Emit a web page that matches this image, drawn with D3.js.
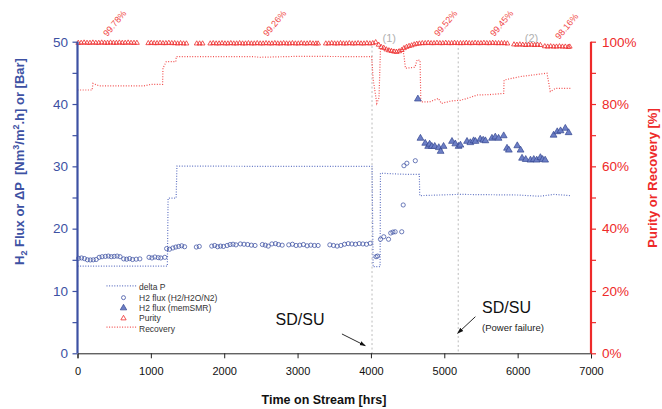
<!DOCTYPE html>
<html>
<head>
<meta charset="utf-8">
<script src="https://cdn.jsdelivr.net/npm/d3@7"></script>
<style>
  body { margin: 0; background: #fff; }
  svg { font-family: "Liberation Sans", Arial, sans-serif; }
</style>
</head>
<body>
<div id="chart"></div>
<script>
var W = 662, H = 409;

// ---- data ----
// [hours, bar]
var deltaP = [[0,14.0],[1225,14.0],[1235,24.9],[1345,24.9],[1355,30.05],[2500,30.0],[4015,30.0],
  [4030,13.9],[4125,13.9],[4130,28.9],[4500,28.7],[4660,28.7],[4665,25.3],[5200,25.5],
  [6000,25.4],[6300,25.2],[6500,25.5],[6720,25.3]];

// [hours, Nm3/m2.h]  H2/H2O/N2 feed
var fluxN2 = [[15,15.24],[55,15.3],[95,15.2],[135,15.0],[175,14.98],[215,15.0],[255,15.05],
  [295,15.4],[335,15.5],[380,15.55],[420,15.6],[460,15.5],[500,15.55],[540,15.6],[580,15.5],
  [630,15.15],[670,15.1],[710,15.2],[750,15.05],[800,15.1],[850,15.15],[975,15.4],[1015,15.3],
  [1055,15.45],[1100,15.35],[1135,15.3],[1190,15.4],[1215,16.8],[1255,16.7],[1300,16.9],
  [1340,17.05],[1380,17.15],[1420,17.25],[1460,17.1],[1620,17.05],[1660,17.15],[1830,17.2],
  [1870,17.3],[1910,17.1],[1950,17.2],[1990,17.15],[2040,17.3],[2080,17.45],[2120,17.5],
  [2160,17.4],[2220,17.55],[2270,17.5],[2320,17.45],[2370,17.35],[2420,17.3],[2520,17.45],
  [2560,17.35],[2600,17.2],[2650,17.55],[2700,17.6],[2740,17.45],[2790,17.35],[2880,17.4],
  [2930,17.5],[2980,17.3],[3030,17.35],[3080,17.45],[3130,17.25],[3180,17.35],[3230,17.3],
  [3280,17.3],[3440,17.4],[3490,17.3],[3540,17.2],[3590,17.3],[3640,17.5],[3690,17.6],
  [3740,17.55],[3790,17.5],[3840,17.6],[3890,17.55],[3940,17.5],[3990,17.65],[4070,15.5],
  [4090,15.6],[4130,18.3],[4175,18.7],[4240,18.3],[4270,19.3],[4300,19.45],[4330,19.5],
  [4420,19.5],[4440,23.8],[4450,30.1],[4490,30.5],[4605,30.9]];

// [hours, Nm3/m2.h]  memSMR
var fluxSMR = [[4640,40.8],[4675,34.5],[4740,33.7],[4780,33.2],[4800,33.55],[4830,33.2],
  [4870,33.2],[4925,33.0],[4950,32.4],[4990,33.2],[5105,34.0],[5150,33.6],[5195,33.2],
  [5220,33.4],[5310,34.0],[5355,33.8],[5400,34.1],[5425,34.0],[5490,34.35],[5530,34.2],
  [5560,34.1],[5650,34.5],[5695,34.7],[5740,34.5],[5810,34.9],[5855,32.9],[5880,32.6],
  [5995,33.3],[6040,32.6],[6060,31.3],[6110,31.1],[6175,31.0],[6220,31.1],[6260,31.0],
  [6310,31.4],[6340,31.1],[6375,31.0],[6490,35.0],[6540,35.55],[6585,35.7],[6650,36.1],
  [6695,35.4]];

// [hours, %]
var purity = [[10,99.6],[50,99.6],[90,99.7],[130,99.6],[170,99.6],[210,99.7],[250,99.6],
  [290,99.6],[330,99.7],[370,99.6],[410,99.6],[450,99.7],[490,99.6],[530,99.6],[570,99.7],
  [610,99.6],[650,99.6],[690,99.7],[730,99.6],[770,99.6],[810,99.6],
  [965,99.5],[1005,99.6],[1045,99.5],[1085,99.5],[1125,99.6],[1165,99.5],[1205,99.5],
  [1245,99.6],[1285,99.5],[1325,99.5],[1365,99.4],[1405,99.5],[1445,99.4],[1485,99.4],
  [1625,99.4],[1665,99.4],[1705,99.4],
  [1810,99.4],[1850,99.5],[1890,99.4],[1930,99.4],[1970,99.5],[2010,99.4],[2050,99.4],
  [2090,99.5],[2130,99.4],[2170,99.4],[2210,99.5],[2250,99.4],[2290,99.4],[2330,99.5],
  [2370,99.4],[2410,99.4],[2450,99.5],[2490,99.4],[2530,99.4],[2570,99.5],[2610,99.4],
  [2650,99.4],[2690,99.5],[2730,99.4],[2770,99.4],[2810,99.5],[2850,99.4],[2890,99.4],
  [2930,99.5],[2970,99.4],[3010,99.4],[3050,99.5],[3090,99.4],[3130,99.4],[3170,99.5],
  [3210,99.4],[3250,99.4],[3280,99.4],
  [3385,99.4],[3425,99.4],[3465,99.5],[3505,99.4],[3545,99.4],[3585,99.5],[3625,99.4],
  [3665,99.4],[3705,99.5],[3745,99.4],[3785,99.4],[3825,99.5],[3865,99.4],[3905,99.4],
  [3945,99.5],[3985,99.4],[4025,99.5],[4065,99.8],
  [4105,99.0],[4140,98.3],[4175,98.0],[4210,97.5],[4245,97.2],[4280,97.0],[4315,96.8],
  [4350,96.7],[4385,96.9],[4420,97.3],[4450,97.9],[4485,98.3],[4520,98.6],[4555,98.8],
  [4590,99.1],[4625,99.3],[4660,99.4],[4700,99.5],
  [4740,99.5],[4780,99.6],[4820,99.5],[4860,99.5],[4900,99.6],[4940,99.5],[4980,99.5],
  [5020,99.6],[5060,99.5],[5100,99.5],[5140,99.6],[5180,99.5],[5220,99.5],[5260,99.5],
  [5300,99.6],[5340,99.5],[5380,99.5],[5420,99.6],[5460,99.5],[5500,99.5],[5540,99.6],
  [5580,99.5],[5620,99.5],[5660,99.6],[5700,99.5],[5740,99.5],[5780,99.5],[5820,99.5],
  [5860,99.4],
  [5950,99.1],[5990,99.0],[6030,99.1],[6070,99.0],[6110,98.9],[6150,99.0],[6190,99.0],
  [6230,98.9],[6270,99.0],[6310,98.9],
  [6370,98.5],[6410,98.4],[6450,98.5],[6490,98.4],[6530,98.4],[6570,98.5],[6610,98.4],
  [6650,98.4],[6690,98.3],[6710,98.4]];

// [hours, %]
var recovery = [[0,84.5],[200,84.5],[210,86.6],[300,85.8],[900,85.8],[1000,86.3],[1160,86.3],
  [1165,91.5],[1210,93.6],[1340,93.6],[1346,95.2],[2400,95.2],[2490,95.0],[3000,95.3],
  [4010,95.2],[4030,88.0],[4080,80.2],[4110,82.0],[4130,97.6],[4430,97.4],[4450,95.7],
  [4470,91.5],[4600,91.8],[4630,94.2],[4670,94.0],[4680,80.7],[4800,80.7],[4920,81.8],
  [4960,80.2],[5100,81.0],[5220,81.2],[5310,81.8],[5450,82.9],[5600,83.0],[5810,83.4],
  [5815,87.7],[6035,88.8],[6400,89.9],[6445,84.0],[6515,85.0],[6720,85.0]];

var purityLabels = ["99.78%", "99.26%", "99.52%", "99.45%", "98.16%"];
var purityLabelHrs = [405, 2586, 4918, 5682, 6568];
var eventHrs = [4015, 5190];
var eventLabels = ["(1)", "(2)"];
var eventLabelHrs = [4250, 6190];

var xTicks = [0, 1000, 2000, 3000, 4000, 5000, 6000, 7000];
var leftTicks = [0, 5, 10, 15, 20, 25, 30, 35, 40, 45, 50];
var rightTicks = [0, 10, 20, 30, 40, 50, 60, 70, 80, 90, 100];

var blue = "#3d51a3", red = "#ee2a2a";

var x = d3.scaleLinear().domain([0, 7000]).range([77.5, 591]);
var yL = d3.scaleLinear().domain([0, 50]).range([353.3, 41.7]);
var yR = d3.scaleLinear().domain([0, 100]).range([353.3, 41.7]);

var svg = d3.select("#chart").append("svg")
    .attr("width", W)
    .attr("height", H);

var defs = svg.append("defs");
defs.append("marker")
    .attr("id", "arrow")
    .attr("viewBox", "0 0 10 10")
    .attr("refX", 9).attr("refY", 5)
    .attr("markerWidth", 7).attr("markerHeight", 7)
    .attr("orient", "auto")
  .append("path")
    .attr("d", "M0,1.5L10,5L0,8.5Z")
    .attr("fill", "#111");

// event lines
svg.selectAll("line.event")
    .data(eventHrs)
  .enter().append("line")
    .attr("class", "event")
    .attr("x1", function(d) { return x(d); })
    .attr("x2", function(d) { return x(d); })
    .attr("y1", function(d, i) { return yL(i ? 49 : 49.3); })
    .attr("y2", yL(0))
    .attr("stroke", "#bcbcbc")
    .attr("stroke-width", 1)
    .attr("stroke-dasharray", "2,2.5");

svg.selectAll("text.event")
    .data(eventLabels)
  .enter().append("text")
    .attr("class", "event")
    .attr("x", function(d, i) { return x(eventLabelHrs[i]); })
    .attr("y", 42)
    .attr("text-anchor", "middle")
    .attr("font-size", 11)
    .attr("fill", "#b0b0b0")
    .text(function(d) { return d; });

// lines
var lineL = d3.line().x(function(d) { return x(d[0]); }).y(function(d) { return yL(d[1]); });
var lineR = d3.line().x(function(d) { return x(d[0]); }).y(function(d) { return yR(d[1]); });

svg.append("path")
    .attr("d", lineL(deltaP))
    .attr("fill", "none")
    .attr("stroke", "#6476c4")
    .attr("stroke-width", 1.2)
    .attr("stroke-dasharray", "1,1.6");

svg.append("path")
    .attr("d", lineR(recovery))
    .attr("fill", "none")
    .attr("stroke", "#f25252")
    .attr("stroke-width", 1.2)
    .attr("stroke-dasharray", "1,1.6");

// markers
var tri = d3.symbol().type(d3.symbolTriangle);

svg.selectAll("circle.n2")
    .data(fluxN2)
  .enter().append("circle")
    .attr("class", "n2")
    .attr("cx", function(d) { return x(d[0]); })
    .attr("cy", function(d) { return yL(d[1]); })
    .attr("r", 2.1)
    .attr("fill", "none")
    .attr("stroke", blue)
    .attr("stroke-width", 0.75);

svg.selectAll("path.smr")
    .data(fluxSMR)
  .enter().append("path")
    .attr("class", "smr")
    .attr("transform", function(d) { return "translate(" + x(d[0]) + "," + yL(d[1]) + ")"; })
    .attr("d", tri.size(20)())
    .attr("fill", "#6d7fc6")
    .attr("stroke", "#34468f")
    .attr("stroke-width", 0.7);

svg.selectAll("path.purity")
    .data(purity)
  .enter().append("path")
    .attr("class", "purity")
    .attr("transform", function(d) { return "translate(" + x(d[0]) + "," + yR(d[1]) + ")"; })
    .attr("d", tri.size(10)())
    .attr("fill", "none")
    .attr("stroke", red)
    .attr("stroke-width", 0.8);

// purity averages
svg.selectAll("text.avg")
    .data(purityLabels)
  .enter().append("text")
    .attr("class", "avg")
    .attr("transform", function(d, i) {
      var yy = i === 4 ? 40 : 37;
      return "translate(" + x(purityLabelHrs[i]) + "," + yy + ")rotate(-50)";
    })
    .attr("font-size", 9)
    .attr("fill", "#f04646")
    .text(function(d) { return d; });

// axes
var gx = svg.append("g")
    .attr("transform", "translate(0," + yL(0) + ")")
    .call(d3.axisBottom(x).tickValues(xTicks).tickSize(5).tickPadding(8.5).tickFormat(d3.format("d")));
gx.select(".domain").attr("stroke", "#222");
gx.selectAll(".tick line").attr("stroke", "#222");
gx.selectAll("text").attr("font-size", 11).attr("fill", "#111").attr("font-family", null);

var gl = svg.append("g")
    .attr("transform", "translate(" + x(0) + ",0)")
    .call(d3.axisLeft(yL).tickValues(leftTicks).tickSize(5).tickPadding(4.5)
      .tickFormat(function(d) { return d % 10 === 0 ? d : ""; }));
gl.select(".domain").attr("stroke", blue).attr("stroke-width", 2.2).attr("d", "M0," + yL(50) + "V" + yL(0));
gl.selectAll(".tick line").attr("stroke", blue).attr("stroke-width", 1.2);
gl.selectAll("text").attr("font-size", 13.5).attr("fill", blue).attr("font-family", null);

var gr = svg.append("g")
    .attr("transform", "translate(" + x(7000) + ",0)")
    .call(d3.axisRight(yR).tickValues(rightTicks).tickSize(5).tickPadding(6)
      .tickFormat(function(d) { return d % 20 === 0 ? d + "%" : ""; }));
gr.select(".domain").attr("stroke", red).attr("stroke-width", 2.2).attr("d", "M0," + yR(100) + "V" + yR(0));
gr.selectAll(".tick line").attr("stroke", red).attr("stroke-width", 1.2);
gr.selectAll("text").attr("font-size", 13.5).attr("fill", red).attr("font-family", null);

// axis titles
svg.append("text")
    .attr("x", 324).attr("y", 404)
    .attr("text-anchor", "middle")
    .attr("font-size", 12.5)
    .attr("font-weight", "bold")
    .attr("fill", "#111")
    .text("Time on Stream [hrs]");

var lt = svg.append("text")
    .attr("transform", "translate(23.5,161.5)rotate(-90)")
    .attr("text-anchor", "middle")
    .attr("font-size", 13)
    .attr("font-weight", "bold")
    .attr("fill", blue);
lt.append("tspan").text("H");
lt.append("tspan").attr("font-size", 9).attr("dy", 3).text("2");
lt.append("tspan").attr("dy", -3).text(" Flux or \u0394P \u00a0[Nm");
lt.append("tspan").attr("font-size", 9).attr("dy", -5).text("3");
lt.append("tspan").attr("dy", 5).text("/m");
lt.append("tspan").attr("font-size", 9).attr("dy", -5).text("2");
lt.append("tspan").attr("dy", 5).text(".h] or [Bar]");

svg.append("text")
    .attr("transform", "translate(657,178)rotate(-90)")
    .attr("text-anchor", "middle")
    .attr("font-size", 13)
    .attr("font-weight", "bold")
    .attr("fill", red)
    .text("Purity or Recovery [%]");

// shutdown annotations
svg.append("text")
    .attr("x", x(2700)).attr("y", yL(4.6))
    .attr("font-size", 16)
    .attr("fill", "#111")
    .text("SD/SU");
svg.append("line")
    .attr("x1", x(3605)).attr("y1", yL(3.1))
    .attr("x2", x(3923)).attr("y2", yL(1.22))
    .attr("stroke", "#111").attr("stroke-width", 0.9)
    .attr("marker-end", "url(#arrow)");

svg.append("text")
    .attr("x", x(5515)).attr("y", yL(6.42))
    .attr("font-size", 16)
    .attr("fill", "#111")
    .text("SD/SU");
svg.append("text")
    .attr("x", x(5515)).attr("y", yL(3.58))
    .attr("font-size", 9.5)
    .attr("fill", "#222")
    .text("(Power failure)");
svg.append("line")
    .attr("x1", x(5424)).attr("y1", yL(5.87))
    .attr("x2", x(5182)).attr("y2", yL(3.21))
    .attr("stroke", "#111").attr("stroke-width", 0.9)
    .attr("marker-end", "url(#arrow)");

// legend
var legendNames = ["delta P", "H2 flux (H2/H2O/N2)", "H2 flux (memSMR)", "Purity", "Recovery"];
var lg = svg.append("g").attr("transform", "translate(106.5,287.3)");
var rows = lg.selectAll("g")
    .data(legendNames)
  .enter().append("g")
    .attr("transform", function(d, i) { return "translate(0," + (i * 10.35) + ")"; });
rows.append("text")
    .attr("x", 32.5).attr("y", 3)
    .attr("font-size", 8.5)
    .attr("fill", "#333")
    .text(function(d) { return d; });
rows.filter(function(d, i) { return i === 0 || i === 4; })
  .append("line")
    .attr("x1", 0).attr("x2", 30).attr("y1", -1.5).attr("y2", -1.5)
    .attr("stroke", function(d, i) { return i === 0 ? "#6476c4" : "#f25252"; })
    .attr("stroke-width", 1.2)
    .attr("stroke-dasharray", "1,1.6");
rows.filter(function(d, i) { return i === 1; })
  .append("circle")
    .attr("cx", 17).attr("cy", 0).attr("r", 2)
    .attr("fill", "none").attr("stroke", blue).attr("stroke-width", 0.8);
rows.filter(function(d, i) { return i === 2; })
  .append("path")
    .attr("transform", "translate(17,0)")
    .attr("d", tri.size(18)())
    .attr("fill", "#6d7fc6").attr("stroke", "#34468f").attr("stroke-width", 0.7);
rows.filter(function(d, i) { return i === 3; })
  .append("path")
    .attr("transform", "translate(17,0)")
    .attr("d", tri.size(12)())
    .attr("fill", "none").attr("stroke", red).attr("stroke-width", 0.8);
</script>
</body>
</html>
